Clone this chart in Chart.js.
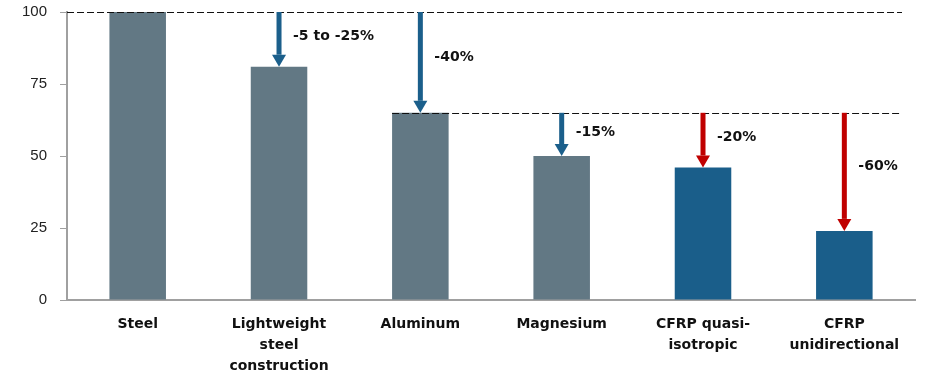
<!DOCTYPE html>
<html>
<head>
<meta charset="utf-8">
<script src="https://cdn.jsdelivr.net/npm/chart.js@4"></script>
<style>
  html, body { margin: 0; padding: 0; background: #fff; }
  #wrap { width: 950px; height: 377px; }
</style>
</head>
<body>
<div id="wrap"><canvas id="myChart"></canvas></div>
<script>
const categories = ['Steel', ['Lightweight', 'steel', 'construction'], 'Aluminum', 'Magnesium', ['CFRP quasi-', 'isotropic'], ['CFRP', 'unidirectional']];
const weights = [100, 81, 65, 50, 46, 24];
const barColors = ['#627884', '#627884', '#627884', '#627884', '#1a5e8a', '#1a5e8a'];
const yTicks = [0, 25, 50, 75, 100];

// arrows: category index, from value, to value, label, colour
const arrowIndex = [1, 2, 3, 4, 5];
const arrowFrom = [100, 100, 65, 65, 65];
const arrowTo = [81, 65, 50, 46, 24];
const arrowLabels = ['-5 to -25%', '-40%', '-15%', '-20%', '-60%'];
const arrowColors = ['#1b5f8b', '#1b5f8b', '#1b5f8b', '#c00000', '#c00000'];

// dashed reference levels
const refValues = [100, 65];
const refStartIndex = [null, 2];

const ctx = document.getElementById('myChart');

const annotatePlugin = {
    id: 'annotate',
    afterDatasetsDraw(chart) {
        const { ctx, chartArea: { left, right }, scales: { x, y } } = chart;
        const meta = chart.getDatasetMeta(0);

        ctx.save();
        // dashed lines
        ctx.strokeStyle = '#111';
        ctx.lineWidth = 1;
        ctx.setLineDash([7, 3]);
        refValues.forEach((v, i) => {
            const py = Math.round(y.getPixelForValue(v)) + 0.5;
            let sx = left;
            if (refStartIndex[i] !== null) {
                const bar = meta.data[refStartIndex[i]];
                sx = bar.x - bar.width / 2;
            }
            ctx.beginPath();
            ctx.moveTo(sx, py);
            ctx.lineTo(right - 13, py);
            ctx.stroke();
        });
        ctx.setLineDash([]);

        // arrows
        arrowIndex.forEach((idx, i) => {
            const px = x.getPixelForValue(idx);
            const y0 = y.getPixelForValue(arrowFrom[i]);
            const y1 = y.getPixelForValue(arrowTo[i]);
            const head = 12;
            ctx.fillStyle = arrowColors[i];
            ctx.fillRect(px - 2.5, y0, 5, y1 - y0 - head);
            ctx.beginPath();
            ctx.moveTo(px - 7, y1 - head);
            ctx.lineTo(px + 7, y1 - head);
            ctx.lineTo(px, y1);
            ctx.closePath();
            ctx.fill();

            ctx.fillStyle = '#111';
            ctx.font = 'bold 14px "DejaVu Sans", Verdana, sans-serif';
            ctx.textAlign = 'left';
            ctx.textBaseline = 'middle';
            ctx.fillText(arrowLabels[i], px + 14, y0 + (y1 - y0) * 0.45);
        });
        ctx.restore();
    }
};

new Chart(ctx, {
    type: 'bar',
    plugins: [annotatePlugin],
    data: {
        labels: categories,
        datasets: [{
            data: weights,
            backgroundColor: barColors,
            barPercentage: 0.4,
            categoryPercentage: 1.0
        }]
    },
    options: {
        responsive: true,
        maintainAspectRatio: false,
        animation: false,
        layout: {
            padding: { left: 9, right: 35, top: 12, bottom: 0 }
        },
        plugins: {
            legend: { display: false },
            tooltip: { enabled: false }
        },
        scales: {
            x: {
                afterFit: (scale) => { scale.height = 77; },
                grid: { display: false, drawTicks: false },
                border: { color: '#a0a0a0', width: 2 },
                ticks: {
                    color: '#111',
                    padding: 14,
                    maxRotation: 0,
                    autoSkip: false,
                    font: { family: '"DejaVu Sans", Verdana, sans-serif', weight: 'bold', size: 14, lineHeight: 1.5 }
                }
            },
            y: {
                min: 0,
                max: 100,
                afterBuildTicks: (scale) => { scale.ticks = yTicks.map(v => ({ value: v })); },
                // tick padding would otherwise push the plot top down
                afterFit: (scale) => { scale.paddingTop = 9; scale.paddingBottom = 0; },
                grid: { drawOnChartArea: false, tickLength: 7, color: '#a0a0a0' },
                border: { color: '#a0a0a0', width: 2 },
                ticks: {
                    color: '#222',
                    padding: 13,
                    font: { family: '"Liberation Sans", Arial, sans-serif', size: 15 }
                }
            }
        }
    }
});
</script>
</body>
</html>
